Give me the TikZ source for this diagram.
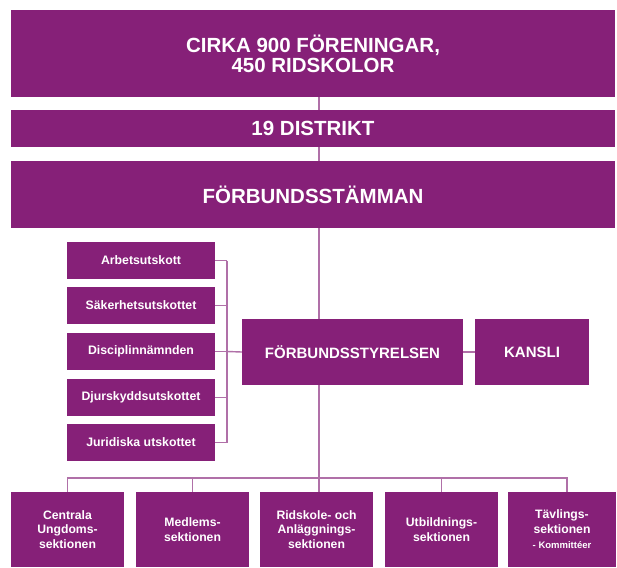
\documentclass[tikz,border=0pt]{standalone}
\usepackage{fontspec}
\setmainfont{Liberation Sans}
\definecolor{boxpurple}{RGB}{134,32,120}
\definecolor{linepurple}{RGB}{176,112,168}
\begin{document}
\begin{tikzpicture}[x=1pt,y=1pt,
  box/.style={rectangle, fill=boxpurple, text=white, inner sep=0pt, align=center, font=\bfseries},
  big/.style={box, font=\fontsize{20.5}{20}\selectfont\bfseries},
  mid/.style={box, font=\fontsize{15}{17}\selectfont\bfseries},
  small/.style={box, font=\fontsize{12.3}{14}\selectfont\bfseries, minimum width=148pt, minimum height=37pt},
  sect/.style={box, font=\fontsize{12.2}{14.5}\selectfont\bfseries, minimum width=113pt, minimum height=75pt},
  conn/.style={draw=linepurple, line width=1.4pt}
]
\useasboundingbox (0,0) rectangle (617,-567);
% top levels
\node[big, minimum width=604pt, minimum height=87pt] (top) at (313,-53.5) {CIRKA 900 FÖRENINGAR,\\450 RIDSKOLOR};
\node[big, minimum width=604pt, minimum height=37pt] (distrikt) at (313,-128.5) {19 DISTRIKT};
\node[big, minimum width=604pt, minimum height=67pt] (stamma) at (313,-194.5) {FÖRBUNDSSTÄMMAN};
% board and office
\node[mid, minimum width=221pt, minimum height=66pt] (styr) at (352.5,-352) {FÖRBUNDSSTYRELSEN};
\node[mid, minimum width=114pt, minimum height=66pt] (kansli) at (532,-352) {KANSLI};
% committees
\node[small] (a1) at (141,-260.5) {Arbetsutskott};
\node[small] (a2) at (141,-305.5) {Säkerhetsutskottet};
\node[small] (a3) at (141,-351.5) {Disciplinnämnden};
\node[small] (a4) at (141,-397.5) {Djurskyddsutskottet};
\node[small] (a5) at (141,-442.5) {Juridiska utskottet};
% sections
\node[sect] (b1) at (67.5,-529.5) {Centrala\\Ungdoms-\\sektionen};
\node[sect] (b2) at (192.5,-529.5) {Medlems-\\sektionen};
\node[sect] (b3) at (316.5,-529.5) {Ridskole- och\\Anläggnings-\\sektionen};
\node[sect] (b4) at (441.5,-529.5) {Utbildnings-\\sektionen};
\node[sect, minimum width=108pt] (b5) at (562,-529.5) {Tävlings-\\sektionen\\[1pt]{\fontsize{9.5}{11}\selectfont - Kommittéer}};
% connectors
\coordinate (mx) at (319,0);
\coordinate (br) at (227,0);
\coordinate (bus) at (0,-478);
\draw[conn] (top.south -| mx) -- (distrikt.north -| mx);
\draw[conn] (distrikt.south -| mx) -- (stamma.north -| mx);
\draw[conn] (stamma.south -| mx) -- (styr.north -| mx);
\draw[conn] (styr.south -| mx) -- (b3.north -| mx);
\draw[conn] (styr.east) -- (kansli.west);
\foreach \n in {a1,a2,a3,a4,a5} {\draw[conn] (\n.east) -- (\n.east -| br);}
\draw[conn] (a1.east -| br) -- (a5.east -| br);
\draw[conn] (a3.east -| br) -- (styr.west);
\coordinate (b5d) at ([xshift=5pt]b5.north);
\draw[conn] (b1.north) -- (b1.north |- bus) -- (b5d |- bus) -- (b5d);
\draw[conn] (b2.north) -- (b2.north |- bus);
\draw[conn] (b4.north) -- (b4.north |- bus);
\end{tikzpicture}
\end{document}
